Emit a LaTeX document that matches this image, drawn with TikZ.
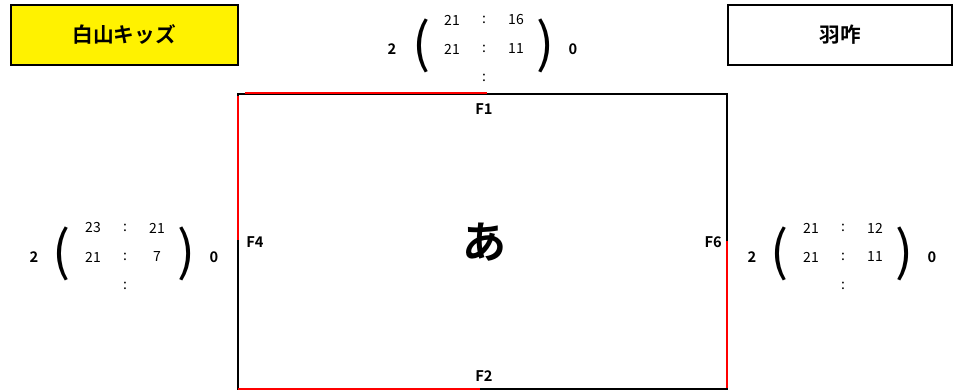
\documentclass[tikz,border=0pt]{standalone}
\usepackage{fontspec}
\setmainfont{Noto Sans CJK JP}[BoldFont={Noto Sans CJK JP Bold}]

\begin{document}
\begin{tikzpicture}[x=0.75pt, y=-0.75pt,
  every node/.style={inner sep=0pt, anchor=center},
  teambox/.style={draw, line width=1.5pt, minimum width=170.25pt, minimum height=45pt, font=\bfseries\fontsize{15.5}{18}\selectfont},
  num/.style={font=\fontsize{10.5}{12}\selectfont},
  game/.style={font=\bfseries\fontsize{11}{13}\selectfont},
  paren/.style={font=\fontsize{40}{42}\selectfont},
  court/.style={line width=1.1pt},
  redline/.style={draw=red, line width=2.2pt}]
\useasboundingbox (0,0) rectangle (953,392);
% --- Teams ---
\node[teambox, fill=yellow] (home) at (124,35) {白山キッズ};
\node[teambox, minimum width=168pt] (away) at (840,35) {羽咋};
%
% --- Court ---
\coordinate (c1) at (238,94);
\coordinate (c2) at (727,94);
\coordinate (c3) at (727,389);
\coordinate (c4) at (238,389);
\draw[court] (c1) -- (c2) -- (c3) -- (c4) -- cycle;
\draw[redline] (245,93) -- (487,93); % top
\draw[redline] (238,96) -- (238,240); % left
\draw[redline] (727,241) -- (727,388); % right
\draw[redline] (238,389) -- (480,389); % bottom
%
\node[game] (f1) at (484,109) {F1};
\node[game] (f2) at (484,376) {F2};
\node[game, anchor=west] (f4) at (246,242) {F4};
\node[game, anchor=east] (f6) at (722,242) {F6};
\node[font=\bfseries\fontsize{33}{36}\selectfont] (mark) at (484,242) {あ};
%
% --- Score F1 (top) ---
\node[game] (t2) at (392,49) {2};
\node[paren] (tl) at (422,46) {(};
\node[num] (ta1) at (452,20) {21};
\node[num] (tc1) at (484,20) {:};
\node[num] (tb1) at (516,20) {16};
\node[num] (ta2) at (452,49) {21};
\node[num] (tc2) at (484,49) {:};
\node[num] (tb2) at (516,49) {11};
\node[num] (tc3) at (484,78) {:};
\node[paren] (tr) at (546,46) {)};
\node[game] (t0) at (573,49) {0};
%
% --- Score F4 (left) ---
\node[game] (l2) at (34,257) {2};
\node[paren] (ll) at (62,254) {(};
\node[num] (la1) at (93,228) {23};
\node[num] (lc1) at (125,228) {:};
\node[num] (lb1) at (157,228) {21};
\node[num] (la2) at (93,257) {21};
\node[num] (lc2) at (125,257) {:};
\node[num] (lb2) at (157,257) {7};
\node[num] (lc3) at (125,286) {:};
\node[paren] (lr) at (187,254) {)};
\node[game] (l0) at (214,257) {0};
%
% --- Score F6 (right) ---
\node[game] (r2) at (752,257) {2};
\node[paren] (rl) at (780,254) {(};
\node[num] (ra1) at (811,228) {21};
\node[num] (rc1) at (843,228) {:};
\node[num] (rb1) at (875,228) {12};
\node[num] (ra2) at (811,257) {21};
\node[num] (rc2) at (843,257) {:};
\node[num] (rb2) at (875,257) {11};
\node[num] (rc3) at (843,286) {:};
\node[paren] (rr) at (905,254) {)};
\node[game] (r0) at (932,257) {0};
%
\end{tikzpicture}
\end{document}
